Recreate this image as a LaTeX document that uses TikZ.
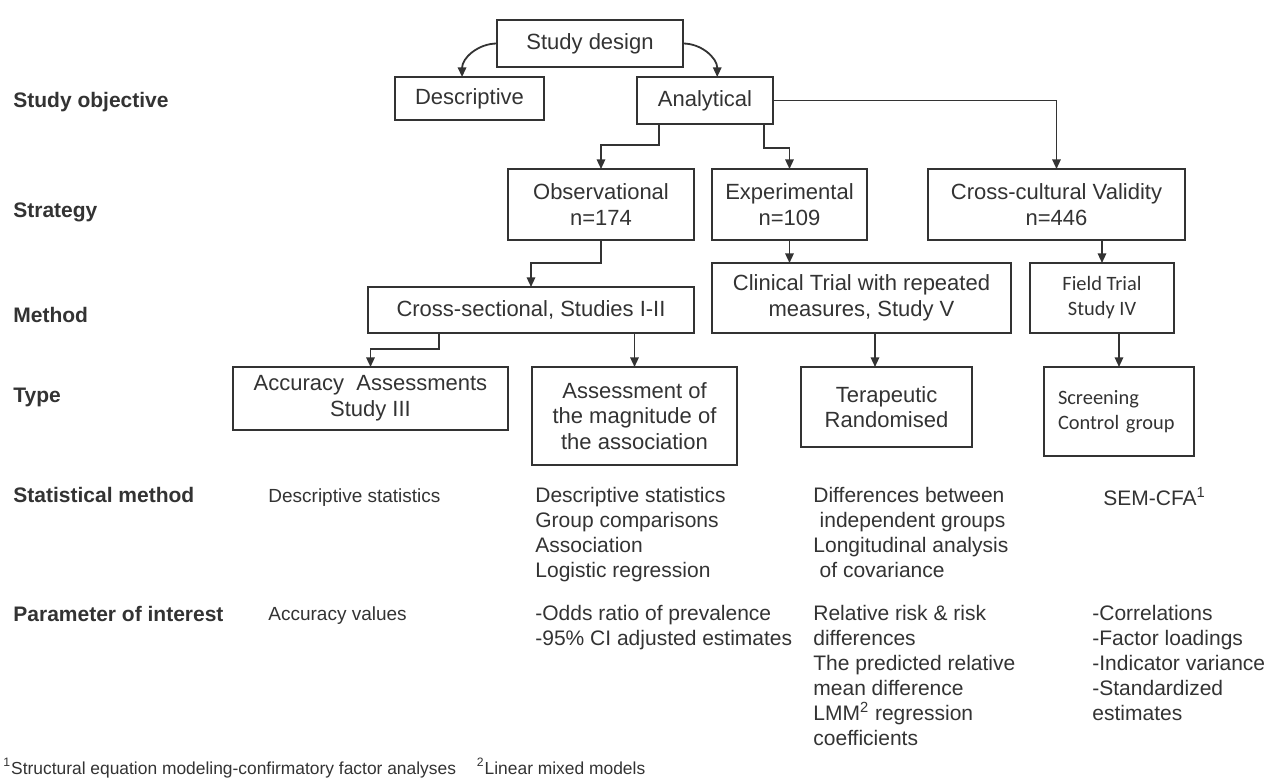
\documentclass[tikz,border=0pt]{standalone}
\usepackage{fontspec}
\setmainfont{Liberation Sans}
\newfontfamily\calfont{Carlito}
\usetikzlibrary{arrows.meta,calc}
\definecolor{ink}{HTML}{333333}

\begin{document}
\begin{tikzpicture}[x=0.5pt,y=-0.5pt,>={Triangle[width=4.2pt,length=4.8pt]},
  box/.style={draw=ink,line width=0.9pt,inner sep=0pt,outer sep=0pt,align=center,text=ink,font=\fontsize{11}{12.8}\selectfont},
  lbl/.style={anchor=west,inner sep=0pt,text=ink,font=\bfseries\fontsize{10.5}{12.5}\selectfont},
  col/.style={anchor=north west,inner sep=0pt,align=left,text=ink,font=\fontsize{10.5}{12.5}\selectfont},
  arr/.style={->,draw=ink,line width=0.9pt}]
\useasboundingbox[fill=white] (0,0) rectangle (1271,782);

% row labels
\node[lbl] (lobj) at (13,102) {Study objective};
\node[lbl] (lstr) at (13,212) {Strategy};
\node[lbl] (lmet) at (13,315) {Method};
\node[lbl] (ltyp) at (13,397) {Type};
\node[lbl] (lsta) at (13,495) {Statistical method};
\node[lbl] (lpar) at (13,614) {Parameter of interest};

% boxes
\node[box,minimum width=93pt,minimum height=23.5pt] (design) at (590,43.5) {Study design};
\node[box,minimum width=74.5pt,minimum height=21.5pt] (descr) at (469.5,98.5) {Descriptive};
\node[box,minimum width=68pt,minimum height=23.5pt] (anal) at (705,100.5) {Analytical};
\node[box,minimum width=93pt,minimum height=35.5pt] (obs) at (601,204.5) {Observational\\n=174};
\node[box,minimum width=77.5pt,minimum height=35.5pt] (exper) at (789.5,204.5) {Experimental\\n=109};
\node[box,minimum width=128.5pt,minimum height=35.5pt] (cross) at (1056.5,204.5) {Cross-cultural Validity\\n=446};
\node[box,minimum width=163pt,minimum height=23pt] (sect) at (531,310) {Cross-sectional, Studies I-II};
\node[box,minimum width=149.5pt,minimum height=35pt] (clin) at (861.5,298) {Clinical Trial with repeated\\measures, Study V};
\node[box,minimum width=72pt,minimum height=35pt,font=\calfont\fontsize{10.2}{12.5}\selectfont] (field) at (1102,298) {Field Trial\\Study IV};
\node[box,minimum width=137.5pt,minimum height=31.5pt] (accu) at (370.5,398.5) {Accuracy\ \ Assessments\\Study III};
\node[box,minimum width=102.5pt,minimum height=49pt] (assoc) at (634.5,416) {Assessment of\\the magnitude of\\the association};
\node[box,minimum width=85.5pt,minimum height=40pt] (thera) at (886.5,407) {Terapeutic\\Randomised};
\node[box,minimum width=75pt,minimum height=44.5pt,inner xsep=7pt,text width=61pt,align=left,font=\calfont\fontsize{10.2}{12.5}\selectfont] (screen) at (1119,411.5) {Screening\\Control group};

% connectors
\draw[arr] (design.west) to[out=180,in=90] ($(descr.north west)!0.45!(descr.north east)$);
\draw[arr] (design.east) to[out=0,in=90] ($(anal.north west)!0.59!(anal.north east)$);
\draw[arr] (anal.south west) ++(22,0) -- ++(0,21) -| (obs.north);
\draw[arr] (anal.south east) ++(-9,0) -- ++(0,24) -| (exper.north);
\draw[arr] (anal.east) -| (cross.north);
\draw[arr] (obs.south) -- ++(0,23) -| (sect.north);
\draw[arr] (exper.south) -- (exper.south |- clin.north);
\draw[arr] (cross.south -| field.north) -- (field.north);
\draw[arr] (sect.south west) ++(71,0) -- ++(0,16) -| (accu.north);
\draw[arr] (sect.south -| assoc.north) -- (assoc.north);
\coordinate (tin) at ($(thera.north)+(-11.5,0)$);
\draw[arr] (tin |- clin.south) -- (tin);
\draw[arr] (field.south -| screen.north) -- (screen.north);

% statistical method
\node[col,font=\fontsize{9.5}{12}\selectfont] (s1) at (268,488) {Descriptive statistics};
\node[col] (s2) at (535,487) {Descriptive statistics\\Group comparisons\\Association\\Logistic regression};
\node[col] (s3) at (813,487) {Differences between\\\hspace{0.3em}independent groups\\Longitudinal analysis\\\hspace{0.3em}of covariance};
\node[col] (s4) at (1103,487) {SEM-CFA\textsuperscript{1}};

% parameter of interest
\node[col,font=\fontsize{9.5}{12}\selectfont] (p1) at (268,606) {Accuracy values};
\node[col] (p2) at (535,605) {-Odds ratio of prevalence\\-95\% CI adjusted estimates};
\node[col] (p3) at (813,605) {Relative risk \& risk\\differences\\The predicted relative\\mean difference\\LMM\textsuperscript{2} regression\\coefficients};
\node[col] (p4) at (1092,605) {-Correlations\\-Factor loadings\\-Indicator variance\\-Standardized\\estimates};

% footnote
\node[anchor=west,inner sep=0pt,text=ink,font=\fontsize{8.7}{11}\selectfont] (note) at (3,768) {\textsuperscript{1}Structural equation modeling-confirmatory factor analyses\hspace{1.2em}\textsuperscript{2}Linear mixed models};
\end{tikzpicture}
\end{document}
